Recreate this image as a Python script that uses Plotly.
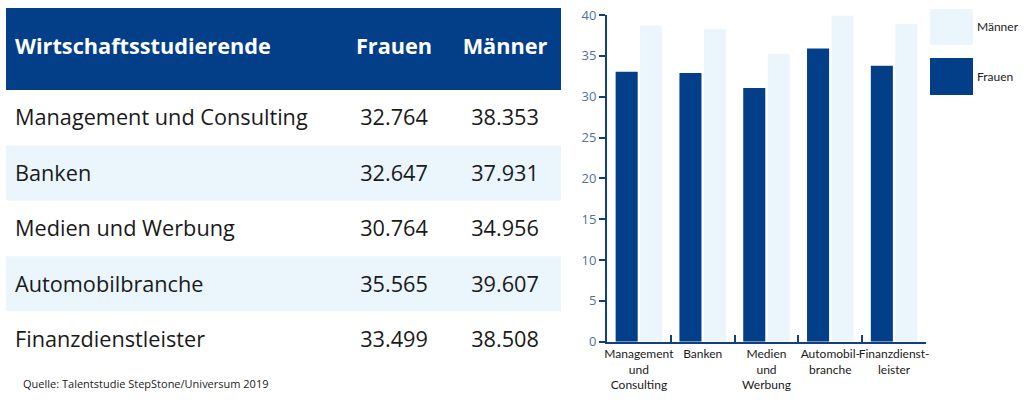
import plotly.graph_objects as go

# ---------------- data ----------------
table_header = ["Wirtschaftsstudierende", "Frauen", "Männer"]
table_rows = ["Management und Consulting", "Banken", "Medien und Werbung",
              "Automobilbranche", "Finanzdienstleister"]
table_frauen = ["32.764", "32.647", "30.764", "35.565", "33.499"]
table_maenner = ["38.353", "37.931", "34.956", "39.607", "38.508"]

chart_categories = ["Management<br>und<br>Consulting", "Banken", "Medien<br>und<br>Werbung",
                    "Automobil-<br>branche", "Finanzdienst-<br>leister"]
chart_frauen = [33.05, 32.9, 31.05, 35.9, 33.8]
chart_maenner = [38.7, 38.3, 35.25, 39.9, 38.9]
y_ticks = [0, 5, 10, 15, 20, 25, 30, 35, 40]
source_text = "Quelle: Talentstudie StepStone/Universum 2019"

# ---------------- styles ----------------
W, H = 1024, 402
DARK = "#033F88"
LIGHT = "#EAF5FC"
AXIS = "#123F7F"
FONT = "Open Sans"
SMALL_FONT = "Lato"

def px_x(p):
    return p / W

def px_y(p):
    return (H - p) / H

fig = go.Figure()

# ---------------- table (own axes: x2 / y2) ----------------
TABLE_W = 555
HEADER_H = 1.48  # header height in row units
TEXT_DY = 0.04   # small downward nudge of body text within rows
row_idx = list(range(len(table_rows)))
header_y = -0.5 - HEADER_H / 2
text_y = [i + TEXT_DY for i in row_idx]

bg_y = [header_y] + row_idx
bg_w = [HEADER_H] + [1] * len(row_idx)
bg_c = [DARK] + [("white" if i % 2 == 0 else LIGHT) for i in row_idx]
fig.add_trace(go.Bar(
    y=bg_y, x=[TABLE_W] * len(bg_y), width=bg_w, orientation="h",
    marker=dict(color=bg_c, line=dict(width=0)),
    xaxis="x2", yaxis="y2", hoverinfo="skip", showlegend=False))

COL_NAME_X = 9
COL_F_X = 388
COL_M_X = 499
TSIZE = 21.7

# header text
fig.add_trace(go.Scatter(
    x=[COL_NAME_X], y=[header_y], text=[table_header[0]], mode="text",
    textposition="middle right",
    textfont=dict(family=FONT, size=TSIZE, color="white", weight="bold"),
    xaxis="x2", yaxis="y2", hoverinfo="skip", showlegend=False))
fig.add_trace(go.Scatter(
    x=[COL_F_X, COL_M_X], y=[header_y, header_y], text=table_header[1:], mode="text",
    textposition="middle center",
    textfont=dict(family=FONT, size=TSIZE, color="white", weight="bold"),
    xaxis="x2", yaxis="y2", hoverinfo="skip", showlegend=False))

# body text
fig.add_trace(go.Scatter(
    x=[COL_NAME_X] * len(row_idx), y=text_y, text=table_rows, mode="text",
    textposition="middle right",
    textfont=dict(family=FONT, size=TSIZE, color="#1a1a1a"),
    xaxis="x2", yaxis="y2", hoverinfo="skip", showlegend=False))
fig.add_trace(go.Scatter(
    x=[COL_F_X] * len(row_idx), y=text_y, text=table_frauen, mode="text",
    textposition="middle center",
    textfont=dict(family=FONT, size=TSIZE, color="#1a1a1a"),
    xaxis="x2", yaxis="y2", hoverinfo="skip", showlegend=False))
fig.add_trace(go.Scatter(
    x=[COL_M_X] * len(row_idx), y=text_y, text=table_maenner, mode="text",
    textposition="middle center",
    textfont=dict(family=FONT, size=TSIZE, color="#1a1a1a"),
    xaxis="x2", yaxis="y2", hoverinfo="skip", showlegend=False))

# ---------------- bar chart ----------------
fig.add_trace(go.Bar(name="Frauen", x=chart_categories, y=chart_frauen,
                     marker=dict(color=DARK, line=dict(width=0)), showlegend=False))
fig.add_trace(go.Bar(name="Männer", x=chart_categories, y=chart_maenner,
                     marker=dict(color=LIGHT, line=dict(width=0)), showlegend=False))

# legend boxes (drawn manually to match large swatches)
legend_items = [("Männer", LIGHT, 9, 45), ("Frauen", DARK, 58, 95)]
shapes = []
annotations = []
for label, col, top, bot in legend_items:
    shapes.append(dict(type="rect", xref="paper", yref="paper",
                       x0=px_x(930), x1=px_x(973), y0=px_y(bot), y1=px_y(top),
                       fillcolor=col, line=dict(width=0), layer="below"))
    annotations.append(dict(text=label, xref="paper", yref="paper",
                            x=px_x(975), y=px_y((top + bot) / 2), xanchor="left",
                            yanchor="middle", showarrow=False,
                            font=dict(family=SMALL_FONT, size=12, color="#222222")))

annotations.append(dict(text=source_text, xref="paper", yref="paper",
                        x=px_x(21), y=px_y(383), xanchor="left", yanchor="middle",
                        showarrow=False, font=dict(family=FONT, size=11, color="#222222")))

fig.update_layout(
    width=W, height=H, autosize=False,
    margin=dict(l=0, r=0, t=0, b=0, pad=0),
    paper_bgcolor="white", plot_bgcolor="rgba(0,0,0,0)",
    barmode="group", bargap=0.232, bargroupgap=0.1,
    font=dict(family=FONT),
    xaxis=dict(domain=[px_x(607), px_x(926)], showline=True, linecolor=AXIS, linewidth=2,
               ticks="inside", tickson="boundaries", ticklen=7, tickwidth=2, tickcolor=AXIS,
               tickangle=0, automargin=False,
               tickfont=dict(family=SMALL_FONT, size=12, color="#1a1a1a"),
               showgrid=False, zeroline=False, fixedrange=True),
    yaxis=dict(domain=[px_y(341.7), px_y(15)], range=[0, 40], tickvals=y_ticks,
               showline=True, linecolor=AXIS, linewidth=2, automargin=False,
               ticks="outside", ticklen=6, tickwidth=2, tickcolor=AXIS,
               tickfont=dict(family=FONT, size=13, color="#5470A0"),
               showgrid=False, zeroline=False, fixedrange=True),
    xaxis2=dict(domain=[px_x(6), px_x(561)], range=[0, TABLE_W], visible=False,
                anchor="y2", fixedrange=True, automargin=False),
    yaxis2=dict(domain=[px_y(367), px_y(8)], range=[len(row_idx) - 0.5, -0.5 - HEADER_H],
                visible=False, anchor="x2", fixedrange=True, automargin=False),
    shapes=shapes, annotations=annotations,
)

fig.write_html("out.html", config={"displayModeBar": False},
               post_script="document.body.style.margin='0';document.body.style.overflow='hidden';")
